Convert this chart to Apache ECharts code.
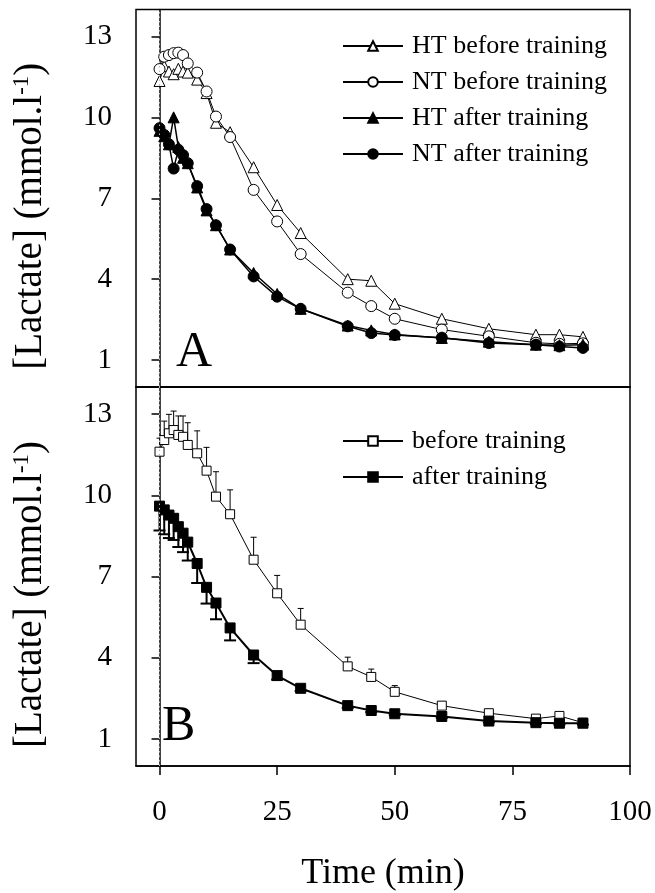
<!DOCTYPE html>
<html>
<head>
<meta charset="utf-8">
<script src="https://cdn.jsdelivr.net/npm/echarts@6/dist/echarts.min.js"></script>
<style>html,body{margin:0;padding:0;background:#fff}#c{width:655px;height:893px}</style>
</head>
<body>
<div id="c"></div>
<script>
const times = [0,1,2,3,4,5,6,8,10,12,15,20,25,30,40,45,50,60,70,80,85,90];
const xTicks = [0,25,50,75,100];
const yTicks = [1,4,7,10,13];

// Panel A
const htBefore = [11.35,11.9,11.7,11.6,11.8,11.7,11.66,11.4,10.9,9.8,9.45,8.15,6.75,5.71,4.0,3.94,3.09,2.53,2.16,1.94,1.94,1.86];
const ntBefore = [11.79,12.25,12.31,12.38,12.4,12.31,12.0,11.66,10.96,10.03,9.27,7.31,6.14,4.93,3.5,3.0,2.53,2.13,1.88,1.64,1.6,1.62];
const htAfter  = [9.5,9.3,9.0,10.0,8.9,8.5,8.3,7.4,6.55,6.0,5.1,4.23,3.45,2.9,2.28,2.1,1.95,1.82,1.68,1.57,1.55,1.57];
const ntAfter  = [9.6,9.35,9.0,8.1,8.8,8.6,8.3,7.45,6.6,6.0,5.1,4.1,3.35,2.9,2.25,2.0,1.93,1.83,1.63,1.57,1.5,1.45];

// Panel B (mean and SD)
const before    = [11.61,12.04,12.29,12.41,12.23,12.16,11.86,11.55,10.91,9.95,9.3,7.62,6.38,5.22,3.68,3.29,2.74,2.23,1.95,1.75,1.85,1.6];
const beforeErr = [0.5,0.7,0.7,0.7,0.7,0.77,0.82,0.83,0.86,0.92,0.9,0.83,0.66,0.6,0.34,0.29,0.23,0.12,0.08,0.05,0.08,0.05];
const after     = [9.6,9.46,9.27,9.15,8.84,8.6,8.27,7.48,6.6,6.02,5.1,4.1,3.34,2.87,2.23,2.05,1.93,1.83,1.66,1.6,1.58,1.58];
const afterErr  = [0.9,0.9,0.85,0.8,0.75,0.7,0.68,0.72,0.6,0.6,0.46,0.3,0.15,0.1,0.08,0.06,0.05,0.05,0.05,0.05,0.05,0.05];

const FONT = "'Liberation Serif','Times New Roman',serif";
const zip = (vals) => times.map((t,i)=>[t, vals[i]]);
const zipErr = (vals, errs, sign) => times.map((t,i)=>[t, vals[i], sign*errs[i]]);

function lineSeries(name, vals, symbol, filled, width, gi, size) {
  return {
    name, type: 'line', xAxisIndex: gi, yAxisIndex: gi, data: zip(vals),
    symbol, symbolSize: size, showAllSymbol: true, z: 3,
    lineStyle: {color: '#000', width: width},
    itemStyle: {color: filled ? '#000' : '#fff', borderColor: '#000', borderWidth: 1},
    emphasis: {disabled: true}, animation: false
  };
}
function errSeries(vals, errs, sign, gi, capHalf, w) {
  return {
    type: 'custom', xAxisIndex: gi, yAxisIndex: gi, z: 2, animation: false,
    data: zipErr(vals, errs, sign),
    renderItem: function(params, api) {
      const x = api.value(0), y = api.value(1), e = api.value(2);
      const p0 = api.coord([x, y]);
      const p1 = api.coord([x, y + e]);
      return {type: 'group', children: [
        {type: 'line', shape: {x1: p0[0], y1: p0[1], x2: p1[0], y2: p1[1]}, style: {stroke: '#000', lineWidth: w}},
        {type: 'line', shape: {x1: p1[0]-capHalf, y1: p1[1], x2: p1[0]+capHalf, y2: p1[1]}, style: {stroke: '#000', lineWidth: w}}
      ]};
    }
  };
}
function xAxis(gi, showLabels) {
  return {
    type: 'value', gridIndex: gi, min: -5, max: 100,
    axisLine: {show: true, lineStyle: {color: '#000', width: 1.5}},
    axisTick: {show: showLabels, inside: false, length: 9, customValues: xTicks, lineStyle: {color: '#000', width: 1.5}},
    axisLabel: {show: showLabels, customValues: xTicks, margin: 32, fontSize: 29, fontFamily: FONT, color: '#000'},
    splitLine: {show: false},
    name: showLabels ? 'Time (min)' : '', nameLocation: 'middle', nameGap: 90,
    nameTextStyle: {fontSize: 36, fontFamily: FONT, color: '#000'}
  };
}
function yAxis(gi) {
  return {
    type: 'value', gridIndex: gi, min: 0, max: 14,
    axisLine: {show: true, lineStyle: {color: '#000', width: 1.5}},
    axisTick: {show: true, inside: false, length: 8, customValues: yTicks, lineStyle: {color: '#000', width: 1.5}},
    axisLabel: {customValues: yTicks, margin: 24, fontSize: 29, fontFamily: FONT, color: '#000'},
    splitLine: {show: false},
    name: '[Lactate] (mmol.l{sup|-1})', nameLocation: 'middle', nameGap: 84,
    nameTextStyle: {fontSize: 39, fontFamily: FONT, color: '#000', lineHeight: 42, padding: [0, 36, 0, 0],
      rich: {sup: {fontSize: 23, fontFamily: FONT, color: '#000', verticalAlign: 'top', lineHeight: 22}}}
  };
}
const zeroLine = {
  silent: true, symbol: 'none', label: {show: false},
  lineStyle: {color: '#b8b8b8', type: [1.5, 3], width: 1},
  data: [{xAxis: 0}], animation: false
};

const legendCommon = {
  orient: 'vertical', left: 337, itemWidth: 60, itemHeight: 12, itemGap: 10,
  textStyle: {fontSize: 26, fontFamily: FONT, color: '#000', lineHeight: 26, padding: [0,0,0,4]},
  selectedMode: false
};

const s1 = lineSeries('HT before training', htBefore, 'triangle', false, 1, 0, 11);
s1.markLine = zeroLine;
const s5 = lineSeries('before training', before, 'rect', false, 1, 1, 9);
s5.markLine = zeroLine;

const option = {
  animation: false,
  backgroundColor: '#fff',
  grid: [
    {left: 136, right: 25, top: 9.5, height: 377.5, show: true, borderColor: '#000', borderWidth: 1.5},
    {left: 136, right: 25, top: 387, height: 379, show: true, borderColor: '#000', borderWidth: 1.5}
  ],
  xAxis: [xAxis(0, false), xAxis(1, true)],
  yAxis: [yAxis(0), yAxis(1)],
  legend: [
    Object.assign({top: 28, data: ['HT before training','NT before training','HT after training','NT after training']}, legendCommon),
    Object.assign({top: 423, data: ['before training','after training']}, legendCommon)
  ],
  graphic: [
    {type: 'text', left: 176, top: 328, style: {text: 'A', fontSize: 50, fontFamily: FONT, fill: '#000'}},
    {type: 'text', left: 162, top: 702, style: {text: 'B', fontSize: 50, fontFamily: FONT, fill: '#000'}}
  ],
  series: [
    s1,
    lineSeries('NT before training', ntBefore, 'circle', false, 1, 0, 11),
    lineSeries('HT after training', htAfter, 'triangle', true, 1.5, 0, 11),
    lineSeries('NT after training', ntAfter, 'circle', true, 1.5, 0, 11),
    errSeries(before, beforeErr, 1, 1, 3, 1),
    errSeries(after, afterErr, -1, 1, 6, 2),
    s5,
    lineSeries('after training', after, 'rect', true, 2, 1, 10)
  ]
};
const chart = echarts.init(document.getElementById('c'));
chart.setOption(option);
</script>
</body>
</html>
